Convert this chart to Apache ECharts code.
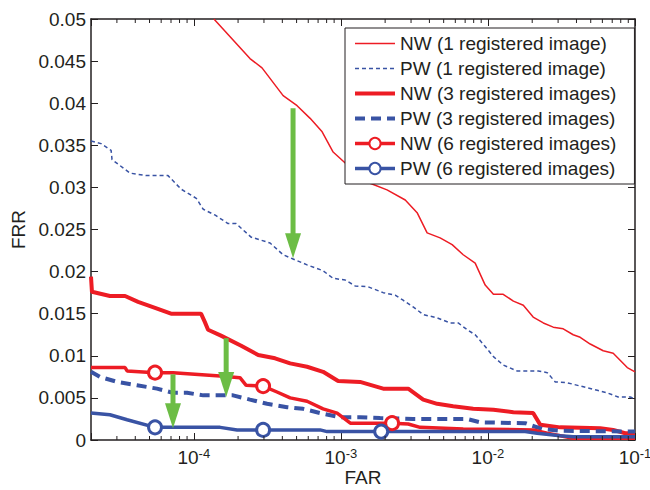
<!DOCTYPE html>
<html><head><meta charset="utf-8">
<script src="https://cdn.jsdelivr.net/npm/echarts@6/dist/echarts.min.js"></script>
<style>html,body{margin:0;padding:0;background:#fff}#c{width:650px;height:490px}</style>
</head><body><div id="c"></div>
<script>
// ---- data ----
const seriesNames = ['NW (1 registered image)','PW (1 registered image)','NW (3 registered images)','PW (3 registered images)','NW (6 registered images)','PW (6 registered images)'];

const nw1X = [1.37e-4,2.41e-4,2.91e-4,4.05e-4,5.04e-4,6.18e-4,7.46e-4,8.86e-4,1.07e-3,1.58e-3,2.06e-3,2.74e-3,3.30e-3,3.86e-3,4.73e-3,5.71e-3,6.79e-3,8.19e-3,9.58e-3,1.09e-2,1.27e-2,1.49e-2,1.74e-2,2.03e-2,2.38e-2,2.78e-2,3.25e-2,3.80e-2,4.24e-2,4.96e-2,6.08e-2,7.11e-2,8.86e-2,1e-1];
const nw1Y = [0.0500,0.0453,0.0442,0.0409,0.0397,0.0382,0.0366,0.0342,0.0329,0.0305,0.0297,0.0285,0.0270,0.0246,0.0240,0.0232,0.0220,0.0210,0.0184,0.0173,0.0173,0.0165,0.0160,0.0146,0.0139,0.0134,0.0132,0.0125,0.0122,0.0114,0.0106,0.0103,0.0086,0.0081];

const pw1X = [2e-5,2.34e-5,2.74e-5,2.78e-5,3.68e-5,4.73e-5,6.68e-5,8.19e-5,1.04e-4,1.16e-4,1.40e-4,1.71e-4,1.94e-4,2.45e-4,3.30e-4,4.05e-4,4.73e-4,5.89e-4,7.57e-4,8.86e-4,1.07e-3,1.25e-3,1.53e-3,1.94e-3,2.34e-3,2.65e-3,3.10e-3,3.63e-3,4.52e-3,5.54e-3,6.28e-3,7.22e-3,8.19e-3,9.58e-3,1.09e-2,1.27e-2,1.58e-2,2.20e-2,2.53e-2,2.87e-2,3.46e-2,4.73e-2,5.54e-2,6.47e-2,7.69e-2,9.28e-2,1e-1];
const pw1Y = [0.0355,0.0352,0.0344,0.0333,0.0317,0.0314,0.0314,0.0298,0.0287,0.0274,0.0267,0.0257,0.0257,0.0241,0.0234,0.0220,0.0215,0.0208,0.0201,0.0192,0.0190,0.0183,0.0182,0.0175,0.0172,0.0166,0.0158,0.0149,0.0145,0.0139,0.0139,0.0131,0.0125,0.0111,0.0099,0.0089,0.0082,0.0082,0.0080,0.0069,0.0068,0.0062,0.0059,0.0056,0.0051,0.0051,0.0049];

const nw3X = [2e-5,2.03e-5,2.69e-5,3.41e-5,4.18e-5,5.45e-5,7.00e-5,1.12e-4,1.19e-4,1.25e-4,1.53e-4,2.10e-4,2.74e-4,3.57e-4,4.52e-4,5.89e-4,7.57e-4,9.58e-4,1.35e-3,1.94e-3,2.87e-3,3.63e-3,4.52e-3,5.80e-3,7.94e-3,1.09e-2,1.49e-2,2.03e-2,2.27e-2,3.10e-2,5.80e-2,7.11e-2,8.58e-2,1e-1];
const nw3Y = [0.0194,0.0176,0.0171,0.0171,0.0164,0.0157,0.0150,0.0150,0.0140,0.0131,0.0124,0.0112,0.0101,0.0097,0.0091,0.0087,0.0081,0.0070,0.0069,0.0061,0.0061,0.0048,0.0043,0.0040,0.0037,0.0036,0.0033,0.0032,0.0018,0.0015,0.0014,0.0012,0.0008,0.0008];

const pw3X = [2e-5,2.30e-5,3.01e-5,4.11e-5,5.62e-5,7.22e-5,9.00e-5,1.16e-4,1.85e-4,2.41e-4,3.15e-4,4.31e-4,5.54e-4,7.22e-4,9.88e-4,1.35e-3,1.85e-3,3.10e-3,7.22e-3,8.86e-3,1.79e-2,2.00e-2,2.34e-2,3.10e-2,1e-1];
const pw3Y = [0.0081,0.0075,0.0069,0.0065,0.0061,0.0056,0.0056,0.0053,0.0053,0.0048,0.0043,0.0039,0.0037,0.0032,0.0027,0.0027,0.0026,0.0025,0.0025,0.0021,0.0020,0.0017,0.0013,0.0011,0.0010];

const nw6X = [2e-5,3.41e-5,3.52e-5,5.45e-5,7.22e-5,1.51e-4,2.06e-4,2.27e-4,2.96e-4,3.68e-4,4.52e-4,5.89e-4,7.57e-4,9.43e-4,1.16e-3,2.23e-3,2.87e-3,3.46e-3,6.79e-3,2.03e-2,2.53e-2,3.80e-2,1e-1];
const nw6Y = [0.0086,0.0086,0.0082,0.0080,0.0080,0.0076,0.0074,0.0065,0.0064,0.0057,0.0050,0.0046,0.0037,0.0032,0.0020,0.0020,0.0019,0.0015,0.0013,0.0012,0.0008,0.0002,0.0002];
const nw6Markers = [5.45e-5,2.96e-4,2.23e-3];

const pw6X = [2e-5,2.69e-5,3.52e-5,5.45e-5,7.22e-5,1.51e-4,1.97e-4,2.96e-4,7.22e-4,8.06e-4,1.88e-3,1.79e-2,2.16e-2,3.10e-2,3.80e-2,1e-1];
const pw6Y = [0.0032,0.0030,0.0024,0.0015,0.0015,0.0015,0.0012,0.0012,0.0012,0.0010,0.0010,0.0010,0.0008,0.0005,0.0004,0.0004];
const pw6Markers = [5.45e-5,2.96e-4,1.88e-3];

// green arrows: x position, start FRR, end FRR
const arrowX = [4.73e-4,1.66e-4,7.22e-5];
const arrowFrom = [0.0394,0.0121,0.0078];
const arrowTo = [0.0216,0.0051,0.0014];

// axis ticks
const xMin = 2e-5, xMax = 0.1, yMin = 0, yMax = 0.05, yStep = 0.005;
const xMinorTicks = [3e-5,4e-5,5e-5,6e-5,7e-5,8e-5,9e-5,2e-4,3e-4,4e-4,5e-4,6e-4,7e-4,8e-4,9e-4,2e-3,3e-3,4e-3,5e-3,6e-3,7e-3,8e-3,9e-3,2e-2,3e-2,4e-2,5e-2,6e-2,7e-2,8e-2,9e-2];

// ---- chart ----
const RED = '#ED1C24', BLUE = '#3953A4', GREEN = '#6CBD45', INK = '#231F20';
const FONT = '"Liberation Sans", Arial, Helvetica, sans-serif';
const zip = (xs, ys) => xs.map((x, i) => [x, ys[i]]);

const chart = echarts.init(document.getElementById('c'), null, {renderer: 'svg'});

const axisCommon = {
  axisLine: {show: true, onZero: false, lineStyle: {color: INK, width: 1.5}},
  axisTick: {show: true, inside: true, length: 7, lineStyle: {color: INK, width: 1}},
  splitLine: {show: false}, minorTick: {show: false}, minorSplitLine: {show: false}
};

const xLabelFmt = v => {
  const e = Math.log10(v), r = Math.round(e);
  if (Math.abs(e - r) > 1e-6) return '';
  return '{b|10}{s|' + r + '}';
};

const lineStyles = [
  {color: RED, width: 1.5, type: 'solid'},
  {color: BLUE, width: 1.5, type: [4, 3]},
  {color: RED, width: 4, type: 'solid'},
  {color: BLUE, width: 4, type: [10, 6]},
  {color: RED, width: 3.5, type: 'solid'},
  {color: BLUE, width: 3.5, type: 'solid'}
];

const option = {
  animation: false,
  backgroundColor: '#fff',
  textStyle: {fontFamily: FONT},
  grid: {left: 91, right: 15, top: 19, bottom: 50, containLabel: false, outerBoundsMode: 'none'},
  legend: {
    show: true, orient: 'vertical', left: 345, top: 28,
    data: seriesNames.map((n, i) => i < 4
      ? {name: n, itemStyle: {opacity: 0, borderWidth: 0}, lineStyle: lineStyles[i]}
      : {name: n, lineStyle: lineStyles[i]}),
    backgroundColor: '#fff', borderColor: INK, borderWidth: 1,
    padding: [6, 18, 6, 8], itemGap: 6, itemWidth: 40, itemHeight: 14,
    textStyle: {fontFamily: FONT, fontSize: 19, color: INK, lineHeight: 19, padding: [0, 0, 0, 0]},
    selectedMode: false, z: 20
  },
  xAxis: [
    Object.assign({}, axisCommon, {
      type: 'log', logBase: 10, min: xMin, max: xMax, position: 'bottom',
      name: 'FAR', nameLocation: 'middle', nameGap: 28, nameMoveOverlap: false,
      nameTextStyle: {fontFamily: FONT, fontSize: 19, color: INK},
      axisLabel: {show: true, margin: 4, formatter: xLabelFmt, showMinLabel: true, showMaxLabel: true, hideOverlap: false,
        rich: {
          b: {fontFamily: FONT, fontSize: 19, lineHeight: 19, color: INK, padding: [7, 0, 0, 0]},
          s: {fontFamily: FONT, fontSize: 13, lineHeight: 13, color: INK}
        }}
    }),
    Object.assign({}, axisCommon, {
      type: 'log', logBase: 10, min: xMin, max: xMax, position: 'top',
      axisLabel: {show: false}
    })
  ],
  yAxis: [
    Object.assign({}, axisCommon, {
      type: 'value', min: yMin, max: yMax, interval: yStep, position: 'left',
      name: 'FRR', nameLocation: 'middle', nameGap: 63, nameRotate: 90, nameMoveOverlap: false,
      nameTextStyle: {fontFamily: FONT, fontSize: 19, color: INK},
      axisLabel: {show: true, margin: 5, fontFamily: FONT, fontSize: 19, color: INK,
        formatter: v => v === 0 ? '0' : String(+v.toFixed(3))}
    }),
    Object.assign({}, axisCommon, {
      type: 'value', min: yMin, max: yMax, interval: yStep, position: 'right',
      axisLabel: {show: false}
    })
  ],
  series: [
    {name: seriesNames[0], type: 'line', data: zip(nw1X, nw1Y), symbol: 'none',
     lineStyle: lineStyles[0], itemStyle: {color: RED}, z: 2},
    {name: seriesNames[1], type: 'line', data: zip(pw1X, pw1Y), symbol: 'none',
     lineStyle: lineStyles[1], itemStyle: {color: BLUE}, z: 2},
    {name: seriesNames[2], type: 'line', data: zip(nw3X, nw3Y), symbol: 'none',
     lineStyle: lineStyles[2], itemStyle: {color: RED}, z: 3},
    {name: seriesNames[3], type: 'line', data: zip(pw3X, pw3Y), symbol: 'none',
     lineStyle: lineStyles[3], itemStyle: {color: BLUE}, z: 3},
    {name: seriesNames[4], type: 'line', data: zip(nw6X, nw6Y), symbol: 'circle', showSymbol: true, showAllSymbol: true,
     symbolSize: v => nw6Markers.includes(v[0]) ? 13 : 0,
     lineStyle: lineStyles[4], itemStyle: {color: '#fff', borderColor: RED, borderWidth: 3}, z: 4},
    {name: seriesNames[5], type: 'line', data: zip(pw6X, pw6Y), symbol: 'circle', showSymbol: true, showAllSymbol: true,
     symbolSize: v => pw6Markers.includes(v[0]) ? 13 : 0,
     lineStyle: lineStyles[5], itemStyle: {color: '#fff', borderColor: BLUE, borderWidth: 3}, z: 4},
    {
      type: 'custom', name: 'arrows', silent: true, z: 6, clip: false,
      data: arrowX.map((x, i) => [x, arrowFrom[i], arrowTo[i]]),
      encode: {x: 0, y: [1, 2]},
      renderItem: (params, api) => {
        const a = api.coord([api.value(0), api.value(1)]);
        const b = api.coord([api.value(0), api.value(2)]);
        const headL = 25, headW = 8;
        return {type: 'group', children: [
          {type: 'line', shape: {x1: a[0], y1: a[1], x2: b[0], y2: b[1] - headL + 2},
           style: {stroke: GREEN, lineWidth: 5}},
          {type: 'polygon', shape: {points: [[b[0] - headW, b[1] - headL], [b[0] + headW, b[1] - headL], [b[0], b[1]]]},
           style: {fill: GREEN}}
        ]};
      }
    },
    {
      type: 'custom', name: 'minorTicks', silent: true, z: 7, clip: false,
      data: xMinorTicks.map(x => [x, yMin]),
      encode: {x: 0, y: 1},
      renderItem: (params, api) => {
        const bot = api.coord([api.value(0), yMin]);
        const top = api.coord([api.value(0), yMax]);
        return {type: 'group', children: [
          {type: 'line', shape: {x1: bot[0], y1: bot[1], x2: bot[0], y2: bot[1] - 4}, style: {stroke: INK, lineWidth: 1}},
          {type: 'line', shape: {x1: top[0], y1: top[1], x2: top[0], y2: top[1] + 4}, style: {stroke: INK, lineWidth: 1}}
        ]};
      }
    }
  ]
};
chart.setOption(option);
</script>
</body></html>
